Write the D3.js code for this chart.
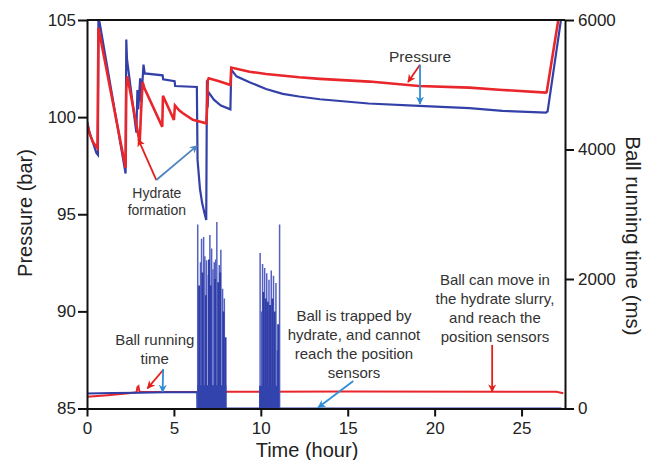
<!DOCTYPE html>
<html>
<head>
<meta charset="utf-8">
<script src="https://cdn.jsdelivr.net/npm/d3@7"></script>
<style>
  body { margin: 0; background: #fff; }
  svg { font-family: "Liberation Sans", Arial, sans-serif; }
  .axis path, .axis line { stroke: #111; stroke-width: 2; }
  .axis text { font-size: 17px; fill: #222; font-family: "Liberation Sans", Arial, sans-serif; }
  .note { fill: #333; }
</style>
</head>
<body>
<svg id="chart" width="652" height="460"></svg>
<script>
// tick values
const timeTicks = [0, 5, 10, 15, 20, 25];
const pressureTicks = [85, 90, 95, 100, 105];
const ballTicks = [0, 2000, 4000, 6000];

// pressure (bar) vs time (hour)
const pressureBlue = [
  [0, 99.8], [0.15, 99.2], [0.54, 98.15], [0.63, 98.05], [0.66, 105.5],
  [0.72, 104.9], [2.22, 97.1], [2.26, 104.0], [2.3, 103.0], [2.84, 99.2],
  [2.9, 101.4], [2.95, 100.4], [3.06, 102.0], [3.12, 100.8], [3.25, 102.7],
  [3.32, 102.25], [4.35, 102.15], [4.38, 101.95], [5.04, 101.85], [5.07, 101.6],
  [6.32, 101.55], [6.36, 97.8], [6.5, 96.3], [6.62, 95.6], [6.76, 95.05], [6.86, 94.7],
  [6.9, 101.9], [6.94, 100.5], [6.98, 101.3], [7.3, 100.9], [7.7, 100.6], [8.25, 100.4],
  [8.3, 102.45], [8.6, 102.1], [9.35, 101.8], [10.3, 101.45], [11.26, 101.2], [12.2, 101.06],
  [13.4, 100.92], [16.2, 100.7], [19.1, 100.58], [22.0, 100.46], [23.9, 100.32], [26.4, 100.23],
  [26.5, 100.3], [27.3, 105.2]
];
const pressureRed = [
  [0, 99.7], [0.15, 99.15], [0.35, 98.7], [0.6, 98.4], [0.66, 104.6],
  [0.72, 104.3], [2.22, 97.4], [2.26, 101.5], [2.32, 102.1], [2.99, 98.9], [3.03, 98.6],
  [3.1, 100.1], [3.2, 101.8], [3.3, 101.5], [4.33, 99.5], [4.37, 101.1], [5.0, 99.86],
  [5.06, 100.6], [5.3, 100.35], [5.52, 100.2], [6.09, 99.86], [6.86, 99.68], [6.9, 100.3],
  [6.95, 101.9], [7.0, 102.0], [7.6, 101.85], [8.25, 101.65], [8.3, 102.55], [9.35, 102.34],
  [10.3, 102.22], [12.2, 102.05], [13.4, 101.97], [16.25, 101.83], [19.1, 101.6], [22.0, 101.52],
  [23.9, 101.4], [26.4, 101.26], [26.45, 101.3], [27.15, 105.2]
];

// ball running time (ms) vs time (hour)
const ballTimeRed = [
  [0, 180], [1.2, 205], [2.4, 235], [2.85, 250], [2.9, 330], [2.96, 345], [3.02, 255],
  [4.5, 255], [6.3, 255], [8.0, 260], [15, 262], [27.0, 260], [27.4, 235]
];
const ballTimeBlue = [
  [0, 230], [1.5, 238], [3.0, 245], [4.5, 250], [6.34, 252], [6.35, 0], [27.3, 0]
];
// [start, end, top ms] of the dense trapped-ball noise
const trappedBands = [[6.35, 8.02, 360], [9.9, 11.06, 350]];
// tallest readings while the ball is trapped
const ballSpikes = [
  [6.37, 2840], [6.53, 2260], [6.59, 2620], [6.71, 2650], [6.78, 2350], [6.88, 2290],
  [6.98, 2060], [7.07, 2680], [7.17, 2470], [7.25, 2150], [7.32, 2260], [7.40, 2300],
  [7.47, 2880], [7.61, 2215], [7.70, 2450], [7.80, 1850], [7.90, 1700],
  [9.96, 2400], [10.05, 1500], [10.1, 2230], [10.22, 2170], [10.34, 2090], [10.47, 1990],
  [10.6, 2130], [10.73, 2050], [10.87, 1940], [10.95, 900], [11.08, 2840]
];
// lower readings packed between them
const ballSpikesLow = [
  [6.45, 1900], [6.65, 2100], [6.84, 1750], [7.02, 2300], [7.12, 1900], [7.37, 2000],
  [7.55, 1950], [7.66, 2100], [7.85, 1500], [7.97, 1100],
  [10.15, 1800], [10.28, 1700], [10.4, 1650], [10.53, 1600], [10.67, 1700], [10.8, 1500], [11.0, 1300]
];

const svg = d3.select("#chart");
const mLeft = 87, mRight = 565, mTop = 20, mBottom = 408.5;

const x = d3.scaleLinear().domain([0, 27.5]).range([mLeft, mRight]);
const yP = d3.scaleLinear().domain([85, 105]).range([mBottom, mTop]);
const yB = d3.scaleLinear().domain([0, 6000]).range([mBottom, mTop]);

const defs = svg.append("defs");
defs.append("clipPath").attr("id", "plot")
  .append("rect").attr("x", mLeft).attr("y", mTop)
  .attr("width", mRight - mLeft).attr("height", mBottom - mTop);

//arrow heads
const heads = { red: "#e3201b", blue: "#2f8ed6", steel: "#4d84c2" };
Object.keys(heads).forEach(function (k) {
  defs.append("marker")
    .attr("id", "head-" + k)
    .attr("viewBox", "0 0 10 10")
    .attr("refX", 9).attr("refY", 5)
    .attr("markerWidth", 4.5).attr("markerHeight", 4.5)
    .attr("orient", "auto")
    .append("path")
    .attr("d", "M0,0 L10,5 L0,10 L3,5 z")
    .attr("fill", heads[k]);
});

const g = svg.append("g").attr("clip-path", "url(#plot)");

const lineB = d3.line().x(d => x(d[0])).y(d => yB(d[1]));
const lineP = d3.line().x(d => x(d[0])).y(d => yP(d[1]));

g.append("path").datum(ballTimeRed)
  .attr("d", lineB).attr("fill", "none")
  .attr("stroke", "#e8262b").attr("stroke-width", 2);

g.append("path").datum(ballTimeBlue)
  .attr("d", lineB).attr("fill", "none")
  .attr("stroke", "#2f3ea6").attr("stroke-width", 2);

g.selectAll(".spike").data(ballSpikes).enter().append("line")
  .attr("class", "spike")
  .attr("x1", d => x(d[0])).attr("x2", d => x(d[0]))
  .attr("y1", yB(0)).attr("y2", d => yB(d[1]))
  .attr("stroke", "#5460c2").attr("stroke-width", 1.5);

g.selectAll(".spike-low").data(ballSpikesLow).enter().append("line")
  .attr("class", "spike-low")
  .attr("x1", d => x(d[0])).attr("x2", d => x(d[0]))
  .attr("y1", yB(0)).attr("y2", d => yB(d[1]))
  .attr("stroke", "#2f3ea6").attr("stroke-width", 2);

const band = d3.area()
  .x(d => x(d[0])).y0(yB(0)).y1(d => yB(d[1]));
g.selectAll(".band").data(trappedBands).enter().append("path")
  .attr("class", "band")
  .attr("d", d => band([[d[0], d[2]], [d[1], d[2]]]))
  .attr("fill", "#3343ad");

g.append("path").datum(pressureBlue)
  .attr("d", lineP).attr("fill", "none")
  .attr("stroke", "#3340a8").attr("stroke-width", 2.2);

g.append("path").datum(pressureRed)
  .attr("d", lineP).attr("fill", "none")
  .attr("stroke", "#e8262b").attr("stroke-width", 2.6);

// axes
svg.append("line")
  .attr("x1", mLeft).attr("x2", mRight).attr("y1", mTop).attr("y2", mTop)
  .attr("stroke", "#111").attr("stroke-width", 2);

svg.append("g").attr("class", "axis")
  .attr("transform", "translate(0," + mBottom + ")")
  .call(d3.axisBottom(x).tickValues(timeTicks).tickSize(8).tickPadding(5).tickSizeOuter(0));

svg.append("g").attr("class", "axis")
  .attr("transform", "translate(" + mLeft + ",0)")
  .call(d3.axisLeft(yP).tickValues(pressureTicks).tickSize(9).tickPadding(2).tickSizeOuter(0));

svg.append("g").attr("class", "axis")
  .attr("transform", "translate(" + mRight + ",0)")
  .call(d3.axisRight(yB).tickValues(ballTicks).tickFormat(d3.format("d"))
    .tickSize(9).tickPadding(4).tickSizeOuter(0));

// axis titles
svg.append("text")
  .attr("transform", "translate(32,213) rotate(-90)")
  .attr("text-anchor", "middle").attr("font-size", 20).attr("fill", "#222")
  .text("Pressure (bar)");

svg.append("text")
  .attr("transform", "translate(626,236) rotate(90)")
  .attr("text-anchor", "middle").attr("font-size", 20.5).attr("fill", "#222")
  .text("Ball running time (ms)");

svg.append("text")
  .attr("x", 307).attr("y", 457)
  .attr("text-anchor", "middle").attr("font-size", 20).attr("fill", "#222")
  .text("Time (hour)");

// annotations, positions in data units
const notes = [
  { lines: ["Pressure"], t: 19.16, v: 102.86, axis: "p", size: 15.5 },
  { lines: ["Hydrate", "formation"], t: 4.02, v: 95.86, axis: "p", size: 14 },
  { lines: ["Ball running", "time"], t: 3.9, v: 981, axis: "b", size: 15 },
  { lines: ["Ball is trapped by", "hydrate, and cannot", "reach the position", "sensors"], t: 15.36, v: 1344, axis: "b", size: 15 },
  { lines: ["Ball can move in", "the hydrate slurry,", "and reach the", "position sensors"], t: 23.47, v: 1907, axis: "b", size: 15 }
];
const arrows = [
  { from: [19.16, 102.7], to: [18.47, 101.81], axis: "p", color: "red" },
  { from: [19.16, 102.7], to: [19.16, 100.68], axis: "p", color: "blue" },
  { from: [3.99, 96.76], to: [2.95, 98.86], axis: "p", color: "red" },
  { from: [3.99, 96.76], to: [6.34, 98.53], axis: "p", color: "steel" },
  { from: [4.38, 594], to: [3.48, 312], axis: "b", color: "red" },
  { from: [4.38, 610], to: [4.35, 255], axis: "b", color: "blue" },
  { from: [15.32, 425], to: [13.3, 15], axis: "b", color: "blue" },
  { from: [23.31, 981], to: [23.31, 262], axis: "b", color: "red" }
];

function yOf(axis, v) { return axis === "p" ? yP(v) : yB(v); }

notes.forEach(function (n) {
  const t = svg.append("text").attr("class", "note")
    .attr("text-anchor", "middle").attr("font-size", n.size);
  n.lines.forEach(function (s, i) {
    t.append("tspan")
      .attr("x", x(n.t))
      .attr("y", yOf(n.axis, n.v) + i * n.size * 1.26)
      .text(s);
  });
});

svg.selectAll(".arrow").data(arrows).enter().append("line")
  .attr("class", "arrow")
  .attr("x1", d => x(d.from[0])).attr("y1", d => yOf(d.axis, d.from[1]))
  .attr("x2", d => x(d.to[0])).attr("y2", d => yOf(d.axis, d.to[1]))
  .attr("stroke", d => heads[d.color]).attr("stroke-width", 1.8)
  .attr("marker-end", d => "url(#head-" + d.color + ")");
</script>
</body>
</html>
